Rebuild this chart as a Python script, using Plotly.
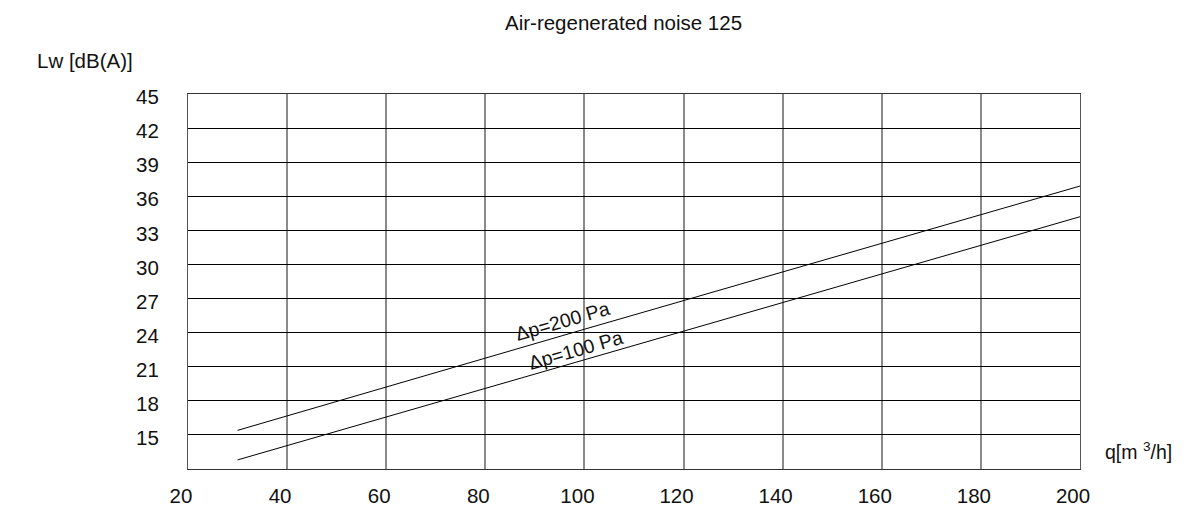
import plotly.graph_objects as go

# Data
q_200 = [30, 100, 200]
lw_200 = [15.4, 24.3, 36.9]
q_100 = [30, 100, 200]
lw_100 = [12.8, 21.6, 34.2]

x_ticks = [20, 40, 60, 80, 100, 120, 140, 160, 180, 200]
y_ticks = [15, 18, 21, 24, 27, 30, 33, 36, 39, 42, 45]

title_text = "Air-regenerated noise 125"
y_title = "Lw [dB(A)]"
x_title = "q[m <sup>3</sup>/h]"
label_200 = "\u0394p=200 Pa"
label_100 = "\u0394p=100 Pa"

FONT = "Liberation Sans, Arial, sans-serif"
FS = 20.5

fig = go.Figure()
fig.add_trace(go.Scatter(x=q_200, y=lw_200, mode="lines",
                         line=dict(color="black", width=1), showlegend=False,
                         hoverinfo="skip"))
fig.add_trace(go.Scatter(x=q_100, y=lw_100, mode="lines",
                         line=dict(color="black", width=1), showlegend=False,
                         hoverinfo="skip"))

fig.update_layout(
    width=1199, height=511,
    margin=dict(l=188, r=119, t=94, b=42, autoexpand=False),
    paper_bgcolor="white", plot_bgcolor="white",
    font=dict(family=FONT, size=FS, color="#111"),
    showlegend=False,
)

fig.update_xaxes(
    range=[20, 200], tickvals=x_ticks, ticktext=[str(v) for v in x_ticks],
    showgrid=True, gridcolor="#8a8a8a", gridwidth=2,
    showline=True, linecolor="#333", linewidth=1, mirror=True,
    zeroline=False, ticks="", ticklabelstandoff=8, ticklabelshift=-7,
    automargin=False,
    tickfont=dict(size=FS, family=FONT, color="#111"),
)
fig.update_yaxes(
    range=[12, 45], tickvals=y_ticks, ticktext=[str(v) for v in y_ticks],
    showgrid=True, gridcolor="black", gridwidth=1,
    showline=True, linecolor="#555", linewidth=1, mirror=True,
    zeroline=False, ticks="", ticklabelstandoff=24, ticklabelshift=3,
    automargin=False,
    tickfont=dict(size=FS, family=FONT, color="#111"),
)

PW = 1199 - 188 - 119
PH = 511 - 94 - 42
fig.add_annotation(text=title_text, xref="paper", yref="paper",
                   x=(623 - 188) / PW, y=(469 - 23) / PH,
                   xanchor="center", yanchor="middle", showarrow=False,
                   font=dict(size=FS, family=FONT, color="#111"))
fig.add_annotation(text=y_title, xref="paper", yref="paper",
                   x=(85 - 188) / PW, y=(469 - 61) / PH,
                   xanchor="center", yanchor="middle", showarrow=False,
                   font=dict(size=FS, family=FONT, color="#111"))
fig.add_annotation(text=x_title, xref="paper", yref="paper",
                   x=(1138 - 188) / PW, y=(469 - 451) / PH,
                   xanchor="center", yanchor="middle", showarrow=False,
                   font=dict(size=FS - 1, family=FONT, color="#111"))
fig.add_annotation(text=label_200, x=95.5, y=25.0, showarrow=False,
                   textangle=-16, xanchor="center", yanchor="middle",
                   font=dict(size=FS - 1, family=FONT, color="#111"))
fig.add_annotation(text=label_100, x=98.1, y=22.5, showarrow=False,
                   textangle=-16, xanchor="center", yanchor="middle",
                   font=dict(size=FS - 1, family=FONT, color="#111"))

fig.write_html("out.html")
